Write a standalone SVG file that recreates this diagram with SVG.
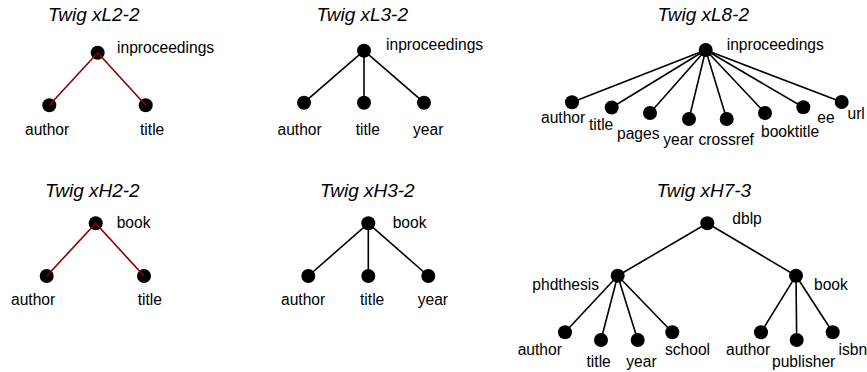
<svg xmlns="http://www.w3.org/2000/svg" width="867" height="372" viewBox="0 0 867 372">
  <style>
    .ttl { font-family: "Liberation Sans", Arial, sans-serif; font-style: italic; font-size: 19px; fill: #000; }
    .lbl { font-family: "Liberation Sans", Arial, sans-serif; font-size: 15.6px; fill: #000; }
    .nd { fill: #000; }
    .e { stroke: #000; stroke-width: 1.6; fill: none; }
    .er { stroke: #8b0000; stroke-width: 1.6; fill: none; }
  </style>

  <!-- captions -->
  <g id="captions">
    <text class="ttl" x="48" y="21">Twig xL2-2</text>
    <text class="ttl" x="316.5" y="21">Twig xL3-2</text>
    <text class="ttl" x="657.5" y="21">Twig xL8-2</text>
    <text class="ttl" x="45" y="196.7">Twig xH2-2</text>
    <text class="ttl" x="320" y="196.7">Twig xH3-2</text>
    <text class="ttl" x="656.5" y="196.7">Twig xH7-3</text>
  </g>

  <!-- Twig xL2-2 -->
  <g id="xL2-inproceedings"><circle class="nd" cx="97.7" cy="52.7" r="7"/><text class="lbl" x="117" y="53.3">inproceedings</text></g>
  <g id="xL2-author"><circle class="nd" cx="49.3" cy="105.3" r="7"/><text class="lbl" x="25" y="135">author</text></g>
  <g id="xL2-title"><circle class="nd" cx="145.7" cy="105.3" r="7"/><text class="lbl" x="140" y="135">title</text></g>

  <!-- Twig xL3-2 -->
  <g id="xL3-inproceedings"><circle class="nd" cx="364" cy="50.7" r="7"/><text class="lbl" x="386" y="50.3">inproceedings</text></g>
  <g id="xL3-author"><circle class="nd" cx="304" cy="102.7" r="7"/><text class="lbl" x="277.5" y="135">author</text></g>
  <g id="xL3-title"><circle class="nd" cx="364" cy="102.7" r="7"/><text class="lbl" x="355.7" y="135">title</text></g>
  <g id="xL3-year"><circle class="nd" cx="424" cy="102.7" r="7"/><text class="lbl" x="413" y="135">year</text></g>

  <!-- Twig xL8-2 -->
  <g id="xL8-inproceedings"><circle class="nd" cx="705.7" cy="50" r="7"/><text class="lbl" x="726.7" y="50.3">inproceedings</text></g>
  <g id="xL8-author"><circle class="nd" cx="572" cy="102.3" r="7"/><text class="lbl" x="541" y="122.7">author</text></g>
  <g id="xL8-title"><circle class="nd" cx="611.7" cy="107.5" r="7"/><text class="lbl" x="589" y="130">title</text></g>
  <g id="xL8-pages"><circle class="nd" cx="650" cy="113" r="7"/><text class="lbl" x="617" y="138.5">pages</text></g>
  <g id="xL8-year"><circle class="nd" cx="689" cy="119" r="7"/><text class="lbl" x="663.3" y="145">year</text></g>
  <g id="xL8-crossref"><circle class="nd" cx="726.7" cy="119" r="7"/><text class="lbl" x="698.5" y="145">crossref</text></g>
  <g id="xL8-booktitle"><circle class="nd" cx="765" cy="113" r="7"/><text class="lbl" x="761" y="136.7">booktitle</text></g>
  <g id="xL8-ee"><circle class="nd" cx="803.3" cy="107.3" r="7"/><text class="lbl" x="817.3" y="123.3">ee</text></g>
  <g id="xL8-url"><circle class="nd" cx="841.7" cy="102" r="7"/><text class="lbl" x="847.5" y="119.3">url</text></g>

  <!-- Twig xH2-2 -->
  <g id="xH2-book"><circle class="nd" cx="95.7" cy="223.3" r="7"/><text class="lbl" x="116.7" y="228.3">book</text></g>
  <g id="xH2-author"><circle class="nd" cx="46.7" cy="276" r="7"/><text class="lbl" x="11" y="305">author</text></g>
  <g id="xH2-title"><circle class="nd" cx="144" cy="276" r="7"/><text class="lbl" x="137.7" y="305">title</text></g>

  <!-- Twig xH3-2 -->
  <g id="xH3-book"><circle class="nd" cx="368.3" cy="223.3" r="7"/><text class="lbl" x="392.7" y="228.3">book</text></g>
  <g id="xH3-author"><circle class="nd" cx="308.3" cy="276" r="7"/><text class="lbl" x="281" y="305">author</text></g>
  <g id="xH3-title"><circle class="nd" cx="368.3" cy="276" r="7"/><text class="lbl" x="360" y="305">title</text></g>
  <g id="xH3-year"><circle class="nd" cx="428.3" cy="276" r="7"/><text class="lbl" x="417.7" y="305">year</text></g>

  <!-- Twig xH7-3 -->
  <g id="xH7-dblp"><circle class="nd" cx="707.3" cy="223.3" r="7"/><text class="lbl" x="732.3" y="224">dblp</text></g>
  <g id="xH7-phdthesis"><circle class="nd" cx="617.7" cy="275.7" r="7"/><text class="lbl" x="532.3" y="290">phdthesis</text></g>
  <g id="xH7-book"><circle class="nd" cx="796" cy="275.7" r="7"/><text class="lbl" x="814" y="290">book</text></g>
  <g id="xH7-p-author"><circle class="nd" cx="565" cy="332.3" r="7"/><text class="lbl" x="517.7" y="355">author</text></g>
  <g id="xH7-p-title"><circle class="nd" cx="601" cy="340" r="7"/><text class="lbl" x="586.5" y="366.7">title</text></g>
  <g id="xH7-p-year"><circle class="nd" cx="637.7" cy="340" r="7"/><text class="lbl" x="626.3" y="366.7">year</text></g>
  <g id="xH7-p-school"><circle class="nd" cx="672.3" cy="332.3" r="7"/><text class="lbl" x="665" y="355">school</text></g>
  <g id="xH7-b-author"><circle class="nd" cx="761" cy="332.3" r="7"/><text class="lbl" x="726" y="355">author</text></g>
  <g id="xH7-b-publisher"><circle class="nd" cx="796.7" cy="340" r="7"/><text class="lbl" x="772" y="366.7">publisher</text></g>
  <g id="xH7-b-isbn"><circle class="nd" cx="832.7" cy="332.3" r="7"/><text class="lbl" x="838.5" y="355">isbn</text></g>

  <!-- connectors -->
  <g id="connectors">
    <line class="er" x1="97.7" y1="52.7" x2="49.3" y2="105.3"/>
    <line class="er" x1="97.7" y1="52.7" x2="145.7" y2="105.3"/>

    <line class="e" x1="364" y1="50.7" x2="304" y2="102.7"/>
    <line class="e" x1="364" y1="50.7" x2="364" y2="102.7"/>
    <line class="e" x1="364" y1="50.7" x2="424" y2="102.7"/>

    <line class="e" x1="705.7" y1="50" x2="572" y2="102.3"/>
    <line class="e" x1="705.7" y1="50" x2="611.7" y2="107.5"/>
    <line class="e" x1="705.7" y1="50" x2="650" y2="113"/>
    <line class="e" x1="705.7" y1="50" x2="689" y2="119"/>
    <line class="e" x1="705.7" y1="50" x2="726.7" y2="119"/>
    <line class="e" x1="705.7" y1="50" x2="765" y2="113"/>
    <line class="e" x1="705.7" y1="50" x2="803.3" y2="107.3"/>
    <line class="e" x1="705.7" y1="50" x2="841.7" y2="102"/>

    <line class="er" x1="95.7" y1="223.3" x2="46.7" y2="276"/>
    <line class="er" x1="95.7" y1="223.3" x2="144" y2="276"/>

    <line class="e" x1="368.3" y1="223.3" x2="308.3" y2="276"/>
    <line class="e" x1="368.3" y1="223.3" x2="368.3" y2="276"/>
    <line class="e" x1="368.3" y1="223.3" x2="428.3" y2="276"/>

    <line class="e" x1="707.3" y1="223.3" x2="617.7" y2="275.7"/>
    <line class="e" x1="707.3" y1="223.3" x2="796" y2="275.7"/>
    <line class="e" x1="617.7" y1="275.7" x2="565" y2="332.3"/>
    <line class="e" x1="617.7" y1="275.7" x2="601" y2="340"/>
    <line class="e" x1="617.7" y1="275.7" x2="637.7" y2="340"/>
    <line class="e" x1="617.7" y1="275.7" x2="672.3" y2="332.3"/>
    <line class="e" x1="796" y1="275.7" x2="761" y2="332.3"/>
    <line class="e" x1="796" y1="275.7" x2="796.7" y2="340"/>
    <line class="e" x1="796" y1="275.7" x2="832.7" y2="332.3"/>
  </g>
</svg>
